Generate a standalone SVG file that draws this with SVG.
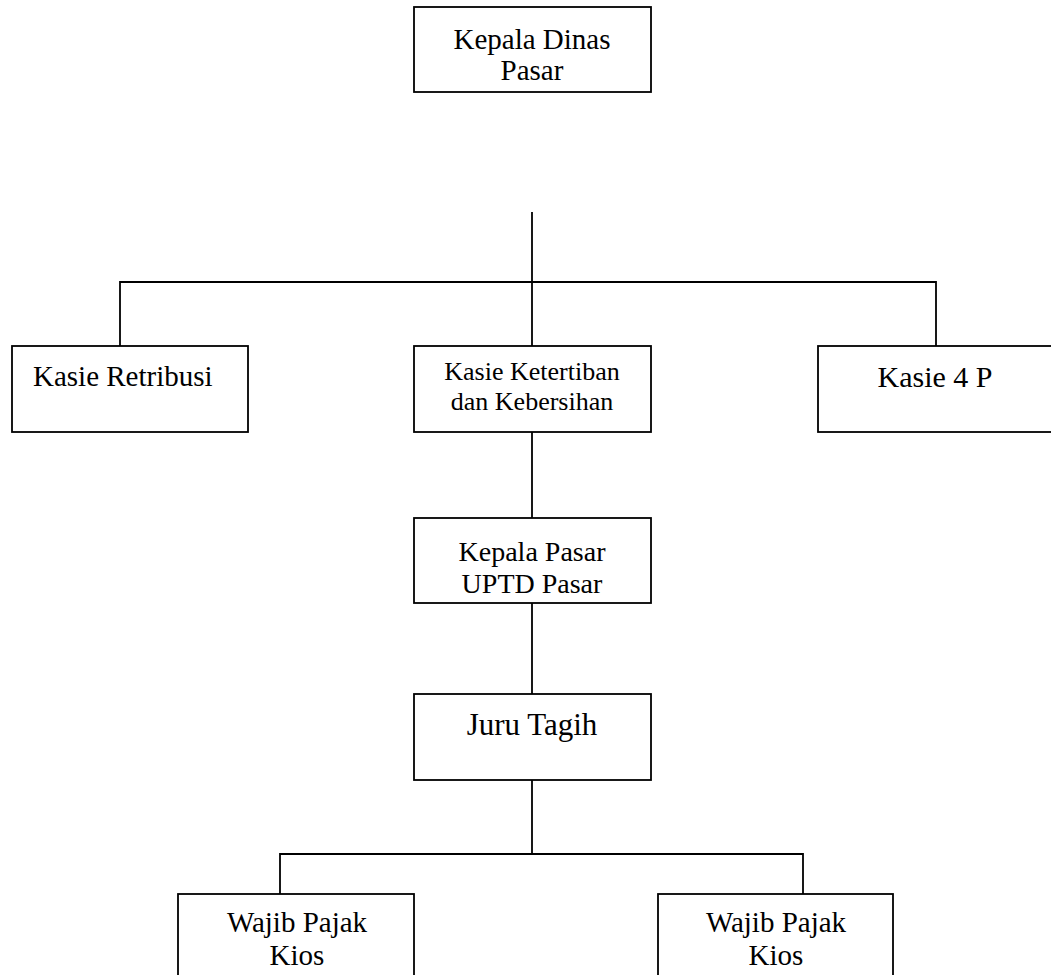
<svg xmlns="http://www.w3.org/2000/svg" width="1051" height="975" viewBox="0 0 1051 975">
<style>
.box{fill:#fff;stroke:#000;stroke-width:1.8}
.ln{fill:none;stroke:#000;stroke-width:1.8}
text{font-family:"Liberation Serif","Times New Roman",serif;fill:#000;text-anchor:middle}
</style>
<rect width="1051" height="975" fill="#fff"/>
<g id="connectors">
<path class="ln" d="M532,212V346M120,346V282H936V346M532,432V518M532,603V694M532,780V854M280,894V854H803V894"/>
</g>
<g id="kepala-dinas">
<rect class="box" x="414" y="7" width="237" height="85"/>
<text x="532" y="49" font-size="29">Kepala Dinas</text>
<text x="532" y="80" font-size="29">Pasar</text>
</g>
<g id="kasie-retribusi">
<rect class="box" x="12" y="346" width="236" height="86"/>
<text x="33" y="386" font-size="29" style="text-anchor:start">Kasie Retribusi</text>
</g>
<g id="kasie-ketertiban">
<rect class="box" x="414" y="346" width="237" height="86"/>
<text x="532" y="380" font-size="26">Kasie Ketertiban</text>
<text x="532" y="410" font-size="26">dan Kebersihan</text>
</g>
<g id="kasie-4p">
<rect class="box" x="818" y="346" width="240" height="86"/>
<text x="935" y="387" font-size="30">Kasie 4 P</text>
</g>
<g id="kepala-pasar">
<rect class="box" x="414" y="518" width="237" height="85"/>
<text x="532" y="561" font-size="28">Kepala Pasar</text>
<text x="532" y="593" font-size="28">UPTD Pasar</text>
</g>
<g id="juru-tagih">
<rect class="box" x="414" y="694" width="237" height="86"/>
<text x="532" y="735" font-size="31">Juru Tagih</text>
</g>
<g id="wajib-pajak-1">
<rect class="box" x="178" y="894" width="236" height="100"/>
<text x="297" y="932" font-size="29">Wajib Pajak</text>
<text x="297" y="965" font-size="29">Kios</text>
</g>
<g id="wajib-pajak-2">
<rect class="box" x="658" y="894" width="235" height="100"/>
<text x="776" y="932" font-size="29">Wajib Pajak</text>
<text x="776" y="965" font-size="29">Kios</text>
</g>
</svg>
